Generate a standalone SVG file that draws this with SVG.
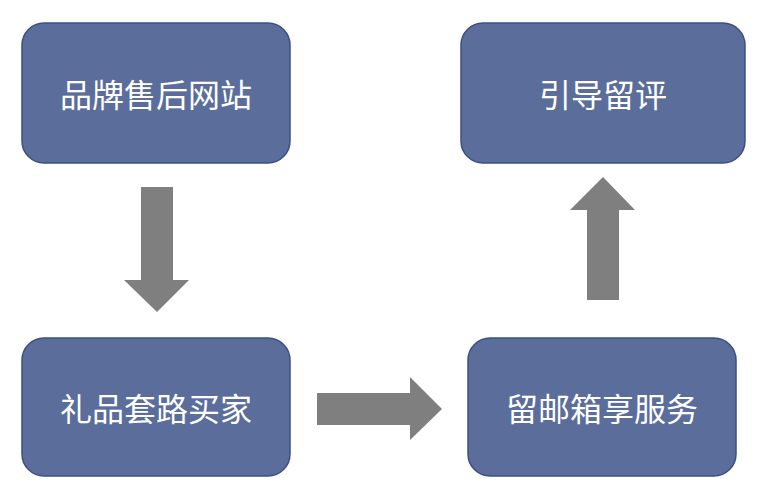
<svg xmlns="http://www.w3.org/2000/svg" width="760" height="496" viewBox="0 0 760 496">
<style>
.n{fill:#5a6d9b;stroke:#3d5082;stroke-width:1.5}
.t{fill:#fff;font-family:"Noto Sans CJK SC",sans-serif;font-size:32px;text-anchor:middle;dominant-baseline:central}
.a{fill:#7f7f7f}
</style>
<rect width="760" height="496" fill="#fff"/>
<g id="n1"><rect class="n" x="22" y="23" width="268" height="140" rx="22"/><text class="t" x="156" y="93">品牌售后网站</text></g>
<g id="n2"><rect class="n" x="461" y="23" width="284" height="140" rx="22"/><text class="t" x="603" y="93">引导留评</text></g>
<g id="n3"><rect class="n" x="22" y="338" width="268" height="138" rx="22"/><text class="t" x="156" y="407">礼品套路买家</text></g>
<g id="n4"><rect class="n" x="468" y="338" width="268" height="138" rx="22"/><text class="t" x="602" y="407">留邮箱享服务</text></g>
<g id="connectors">
<polygon class="a" points="141,187 173,187 173,280 189,280 157,312 124,280 141,280"/>
<polygon class="a" points="317,393 410,393 410,377 442,409 410,440 410,425 317,425"/>
<polygon class="a" points="587,300 619,300 619,210 635,210 603,177 570,210 587,210"/>
</g>
</svg>
